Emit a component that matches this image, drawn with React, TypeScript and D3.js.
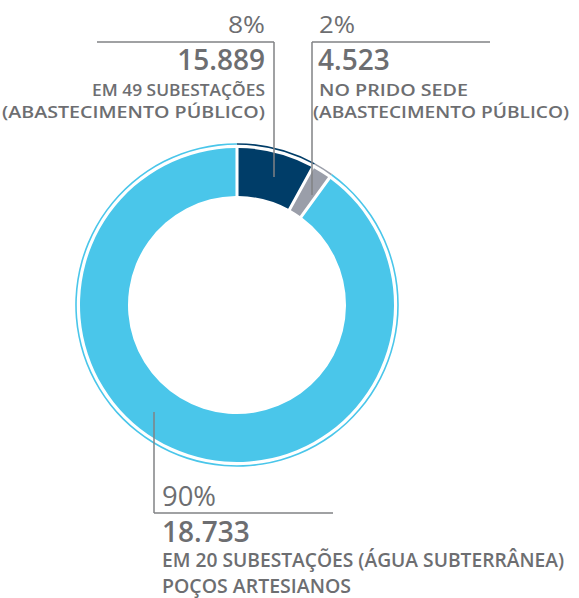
import React from "react";
import * as d3 from "d3";

const categories = ["subestacoes", "sede", "pocos"];
const percents = [8, 2, 90];
const volumes = ["15.889", "4.523", "18.733"];
const descriptions = [
  ["EM 49 SUBESTAÇÕES", "(ABASTECIMENTO PÚBLICO)"],
  ["NO PRIDO SEDE", "(ABASTECIMENTO PÚBLICO)"],
  ["EM 20 SUBESTAÇÕES (ÁGUA SUBTERRÂNEA)", "POÇOS ARTESIANOS"],
];
const descWidths = [
  [173, 263],
  [149, 256],
  [402, 189],
];
const colors = ["#003d68", "#9a9ea9", "#4ac6ea"];

const W = 579;
const H = 598;
const CX = 237;
const CY = 305;
const R_OUT = 157;
const R_IN = 109;
const R_RING = 161;
const TEXT = "#6d6e71";
const LINE = "#808285";
const FONT = "'Open Sans', 'Noto Sans', sans-serif";

export default function App() {
  const data = categories.map((c, i) => ({ c, p: percents[i], i }));
  const pie = d3.pie<any>().value((d) => d.p).sort(null);
  const arcs = pie(data);
  const arc = d3.arc<any>().innerRadius(R_IN).outerRadius(R_OUT).padAngle(0.016);
  const ring = d3.arc<any>().innerRadius(R_RING - 0.8).outerRadius(R_RING + 0.8);

  const desc = (i: number, x: number, y0: number, dy: number, anchor: string, fs: number) =>
    descriptions[i].map((t, k) => (
      <text
        key={k}
        x={i === 1 && k === 1 ? 313 : x}
        y={y0 + k * dy}
        textAnchor={anchor}
        fontSize={fs}
        fill={TEXT}
        fontWeight={600}
        textLength={descWidths[i][k]}
        lengthAdjust="spacingAndGlyphs"
      >
        {t}
      </text>
    ));

  return (
    <svg
      width={W}
      height={H}
      style={{ position: "absolute", left: 0, top: 0, background: "#fff" }}
      fontFamily={FONT}
    >
      <g transform={`translate(${CX},${CY})`}>
        {arcs.map((a, i) => (
          <path key={"r" + i} d={ring(a) as string} fill={colors[i]} />
        ))}
        {arcs.map((a, i) => (
          <path key={"s" + i} d={arc(a) as string} fill={colors[i]} />
        ))}
      </g>

      {/* label 0 : left top */}
      <g>
        <line x1={97} y1={42} x2={274} y2={42} stroke={LINE} strokeWidth={1.5} />
        <line x1={274} y1={42} x2={274} y2={177} stroke={LINE} strokeWidth={1.5} />
        <text x={265} y={33} textAnchor="end" fontSize={23} fill={TEXT} fontWeight={500}
          textLength={37} lengthAdjust="spacingAndGlyphs">
          {percents[0]}%
        </text>
        <text x={265} y={70} textAnchor="end" fontSize={28} fill={TEXT} fontWeight={600}>
          {volumes[0]}
        </text>
        {desc(0, 265, 96, 22, "end", 16.5)}
      </g>

      {/* label 1 : right top */}
      <g>
        <line x1={312} y1={42} x2={490} y2={42} stroke={LINE} strokeWidth={1.5} />
        <line x1={312} y1={42} x2={312} y2={195} stroke={LINE} strokeWidth={1.5} />
        <text x={319} y={33} fontSize={23} fill={TEXT} fontWeight={500}
          textLength={36} lengthAdjust="spacingAndGlyphs">
          {percents[1]}%
        </text>
        <text x={318} y={70} fontSize={28} fill={TEXT} fontWeight={600}>
          {volumes[1]}
        </text>
        {desc(1, 319, 96, 22, "start", 16.5)}
      </g>

      {/* label 2 : bottom */}
      <g>
        <line x1={154} y1={412} x2={154} y2={513} stroke={LINE} strokeWidth={1.5} />
        <line x1={154} y1={513} x2={333} y2={513} stroke={LINE} strokeWidth={1.5} />
        <text x={162} y={506} fontSize={26.5} fill={TEXT} fontWeight={500}
          textLength={54} lengthAdjust="spacingAndGlyphs">
          {percents[2]}%
        </text>
        <text x={162} y={542} fontSize={28} fill={TEXT} fontWeight={600}>
          {volumes[2]}
        </text>
        {desc(2, 162, 567, 26, "start", 19)}
      </g>
    </svg>
  );
}
